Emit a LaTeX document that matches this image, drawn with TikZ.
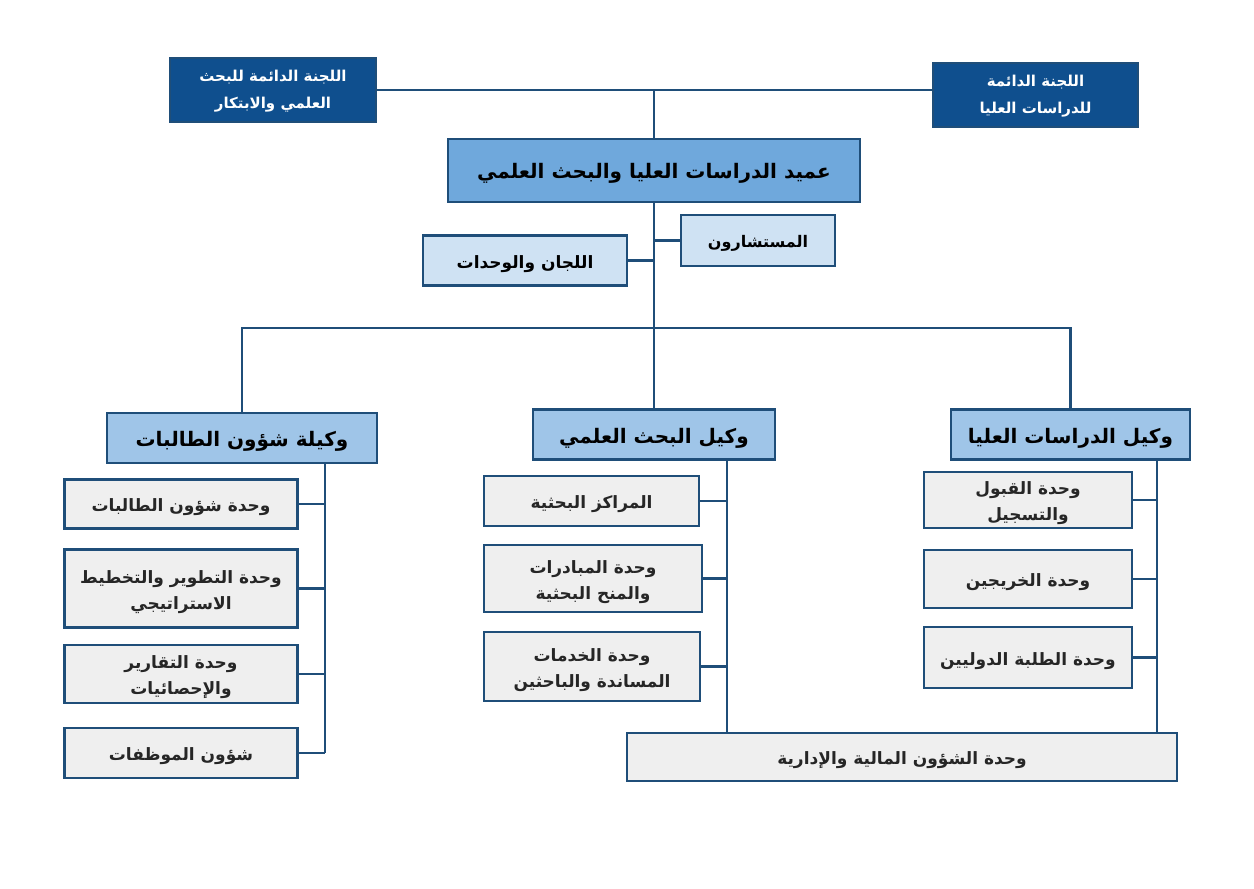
\documentclass[tikz,border=0pt]{standalone}
\usepackage{fontspec}
\newfontfamily\arabicfont[Script=Arabic]{DejaVu Sans}
\TeXXeTstate=1
\definecolor{navy}{HTML}{1F4E79}
\definecolor{darkfill}{HTML}{0F4F8E}
\definecolor{deanfill}{HTML}{6FA8DC}
\definecolor{vpfill}{HTML}{9FC5E8}
\definecolor{lightfill}{HTML}{CFE2F3}
\definecolor{greyfill}{HTML}{EFEFEF}
\def\arshift{-3.5pt}
\newcommand{\ar}[1]{\raisebox{\arshift}[\height][\depth]{\beginR #1\endR}}
\begin{document}
\begin{tikzpicture}[x=1pt,y=-1pt,
  box/.style={draw=navy, line width=2.2pt, inner sep=2pt, align=center,
    font=\def\arshift{-3.5pt}\arabicfont\bfseries\fontsize{17}{26}\selectfont},
  dark/.style={box, fill=darkfill, text=white, font=\def\arshift{-1.5pt}\arabicfont\bfseries\fontsize{15}{27}\selectfont},
  dean/.style={box, fill=deanfill, font=\def\arshift{-2.5pt}\arabicfont\bfseries\fontsize{20}{24}\selectfont},
  vp/.style={box, fill=vpfill, font=\def\arshift{-3.5pt}\arabicfont\bfseries\fontsize{20}{24}\selectfont},
  light/.style={box, fill=lightfill},
  unit/.style={box, fill=greyfill, text=black!85},
  conn/.style={draw=navy, line width=2.2pt}]
\useasboundingbox (0,0) rectangle (1254,889);

% top
\node[dark, minimum width=206pt, minimum height=64pt] (lc) at (273,90)
  {\ar{اللجنة الدائمة للبحث}\\\ar{العلمي والابتكار}};
\node[dark, minimum width=205pt, minimum height=64pt] (rc) at (1035.5,95)
  {\ar{اللجنة الدائمة}\\\ar{للدراسات العليا}};
\node[dean, minimum width=412pt, minimum height=63pt] (dean) at (654,170.5)
  {\ar{عميد الدراسات العليا والبحث العلمي}};
\node[light, font=\def\arshift{-2.5pt}\arabicfont\bfseries\fontsize{16}{24}\selectfont, minimum width=154pt, minimum height=51pt] (adv) at (758,240.5)
  {\ar{المستشارون}};
\node[light, minimum width=204pt, minimum height=50pt] (com) at (525,260.5)
  {\ar{اللجان والوحدات}};

% vice deans
\node[vp, minimum width=270pt, minimum height=50pt] (lvp) at (242,438)
  {\ar{وكيلة شؤون الطالبات}};
\node[vp, minimum width=242pt, minimum height=50pt] (mvp) at (654,434.5)
  {\ar{وكيل البحث العلمي}};
\node[vp, minimum width=239pt, minimum height=50pt] (rvp) at (1070.5,434.5)
  {\ar{وكيل الدراسات العليا}};

% left units
\node[unit, minimum width=233pt, minimum height=49pt] (l1) at (181,504)
  {\ar{وحدة شؤون الطالبات}};
\node[unit, minimum width=233pt, minimum height=78pt] (l2) at (181,588.5)
  {\ar{وحدة التطوير والتخطيط}\\\ar{الاستراتيجي}};
\node[unit, minimum width=233pt, minimum height=58pt] (l3) at (181,674)
  {\ar{وحدة التقارير}\\\ar{والإحصائيات}};
\node[unit, minimum width=233pt, minimum height=50pt] (l4) at (181,753)
  {\ar{شؤون الموظفات}};

% middle units
\node[unit, minimum width=215pt, minimum height=50pt] (m1) at (591.5,501)
  {\ar{المراكز البحثية}};
\node[unit, minimum width=218pt, minimum height=67pt] (m2) at (593,578.5)
  {\ar{وحدة المبادرات}\\\ar{والمنح البحثية}};
\node[unit, minimum width=216pt, minimum height=69pt] (m3) at (592,666.5)
  {\ar{وحدة الخدمات}\\\ar{المساندة والباحثين}};

% right units
\node[unit, minimum width=208pt, minimum height=56pt] (r1) at (1028,500)
  {\ar{وحدة القبول}\\\ar{والتسجيل}};
\node[unit, minimum width=208pt, minimum height=58pt] (r2) at (1028,579)
  {\ar{وحدة الخريجين}};
\node[unit, minimum width=208pt, minimum height=61pt] (r3) at (1028,657.5)
  {\ar{وحدة الطلبة الدوليين}};

% finance
\node[unit, minimum width=550pt, minimum height=48pt] (fin) at (902,757)
  {\ar{وحدة الشؤون المالية والإدارية}};

% coordinates
\coordinate (hub) at (654,328);
\coordinate (lbus) at (325,463);
\coordinate (mbus) at (727,460);
\coordinate (rbus) at (1157,460);

% connectors
\draw[conn] (lc.east) -- (lc.east -| rc.west);
\draw[conn] (dean.north) -- (dean.north |- lc.east);
\draw[conn] (dean.south) -- (hub);
\draw[conn] (adv.west) -- (adv.west -| dean.south);
\draw[conn] (com.east) -- (com.east -| dean.south);
\draw[conn] (lvp.north) -- (lvp.north |- hub) -- (rvp.north |- hub) -- (rvp.north);
\draw[conn] (hub) -- (mvp.north);

\draw[conn] (lbus) -- (lbus |- l4.east);
\foreach \n in {l1,l2,l3,l4} \draw[conn] (\n.east) -- (\n.east -| lbus);
\draw[conn] (mbus) -- (mbus |- fin.north);
\foreach \n in {m1,m2,m3} \draw[conn] (\n.east) -- (\n.east -| mbus);
\draw[conn] (rbus) -- (rbus |- fin.north);
\foreach \n in {r1,r2,r3} \draw[conn] (\n.east) -- (\n.east -| rbus);
\end{tikzpicture}
\end{document}
